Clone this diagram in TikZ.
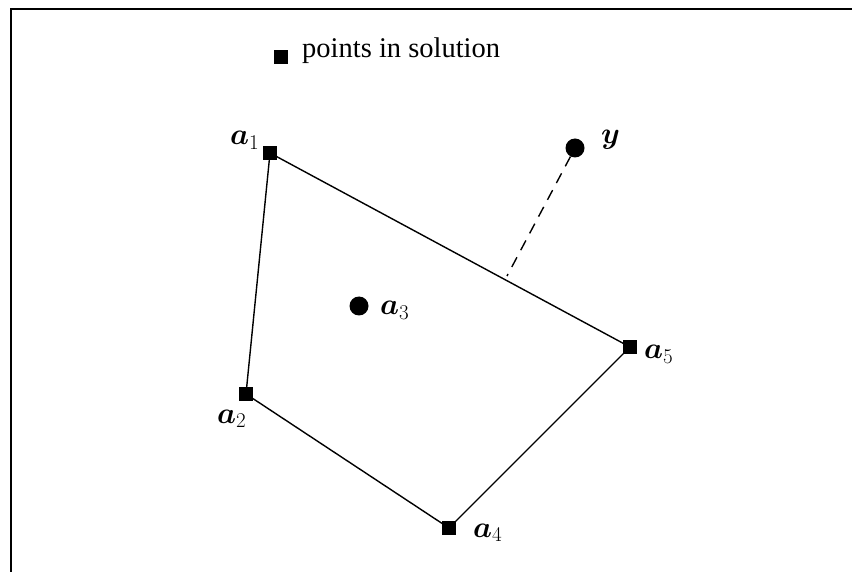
\RequirePackage{fix-cm}
\documentclass[tikz,border=0pt]{standalone}
\usepackage{amsmath}
\usepackage{bm}
\usepackage[no-math]{fontspec}
\setmainfont{Liberation Serif}
\begin{document}
\begin{tikzpicture}[x=1pt,y=-1pt,
  sq/.style={fill=black,draw=none,minimum size=14pt,inner sep=0pt,rectangle},
  dot/.style={fill=black,draw=none,circle,minimum size=19pt,inner sep=0pt},
  lbl/.style={inner sep=0pt,anchor=base west,font=\fontsize{30}{34}\selectfont},
  hulledge/.style={line width=1.4pt},
  distline/.style={line width=1.4pt,dash pattern=on 11pt off 8pt}]
\useasboundingbox (0,0) rectangle (852,572);
\fill[white] (0,0) rectangle (852,572);
% frame
\coordinate (fL) at (11,572);
\coordinate (fC) at (11,9);
\coordinate (fR) at (852,9);
\draw[line width=1.6pt] (fL) -- (fC) -- (fR);
% legend
\node[sq] (leg) at (281,57) {};
\node[inner sep=0pt,anchor=base west,font=\fontsize{28.5}{32}\selectfont] (legtxt) at (302,58) {points in solution};
% points
\node[sq] (a1) at (270,153) {};
\node[sq] (a2) at (246,394) {};
\node[sq] (a4) at (449,528) {};
\node[sq] (a5) at (630,347) {};
\node[dot] (a3) at (359,306) {};
\node[dot] (y) at (575,148) {};
\coordinate (p) at (507,276);
% edges
\draw[hulledge] (a1.center) -- (a5.center) -- (a4.center) -- (a2.center) -- (a1.center);
\draw[distline] (y) -- (p);
% labels
\node[lbl] (la1) at (230,145) {$\bm{a}_1$};
\node[lbl] (la2) at (217,423) {$\bm{a}_2$};
\node[lbl] (la3) at (380,315) {$\bm{a}_3$};
\node[lbl] (la4) at (473,537) {$\bm{a}_4$};
\node[lbl] (la5) at (644,359) {$\bm{a}_5$};
\node[lbl] (ly) at (601,144) {$\bm{y}$};
\end{tikzpicture}
\end{document}
